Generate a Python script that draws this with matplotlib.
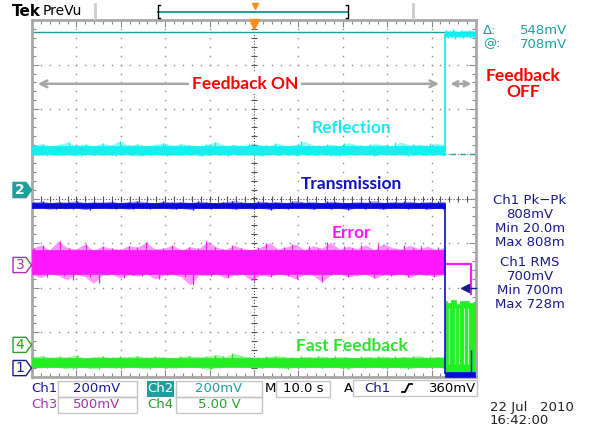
import numpy as np
import matplotlib.pyplot as plt
from matplotlib.patches import Polygon, Rectangle
from matplotlib.ticker import MultipleLocator
from matplotlib.transforms import blended_transform_factory

# scope settings: 10 s/div, 10 div across, 8 div up
t_off = 43.0                     # s, feedback switched off
ch_gnd = {'1': -3.80, '2': 0.19, '3': -1.49, '4': -3.28}  # ground markers (div)
ch_scale = 200.0                 # mV/div for Ch1 and Ch2
cursor_at = 708.0                # mV
cursor_delta = 548.0             # mV
trig_level = 360.0               # mV on Ch1

# trace levels (div) before / after switching feedback off
refl_on, refl_off = 1.07, 3.68
trans_on, trans_off = -0.15, -3.93
err_on, err_off = -1.42, -1.47
fast_on = -3.67

# solid core of each noisy trace (div, +/- around level)
refl_core = (0.10, -0.08)
trans_core = (0.06, -0.06)
err_core = (0.27, -0.27)
fast_core = (0.10, -0.10)

# noise peaks (div, relative to level)
refl_top = [0.12, 0.16, 0.11, 0.14, 0.19, 0.12, 0.15, 0.11, 0.17, 0.13, 0.22, 0.12,
            0.15, 0.11, 0.14, 0.18, 0.12, 0.16, 0.13, 0.11, 0.15, 0.20, 0.12, 0.14,
            0.11, 0.16, 0.13, 0.12, 0.17, 0.11, 0.14, 0.21, 0.13, 0.12, 0.15, 0.11,
            0.18, 0.13, 0.12, 0.16, 0.14, 0.11, 0.19, 0.13, 0.15, 0.12, 0.17, 0.13]
refl_bot = [-0.09, -0.11, -0.08, -0.10, -0.09, -0.12, -0.08, -0.10, -0.09, -0.11, -0.08, -0.10,
            -0.12, -0.09, -0.08, -0.11, -0.10, -0.09, -0.08, -0.12, -0.10, -0.09, -0.11, -0.08,
            -0.10, -0.09, -0.12, -0.08, -0.10, -0.09, -0.11, -0.08, -0.10, -0.09, -0.11, -0.12,
            -0.08, -0.10, -0.09, -0.11, -0.08, -0.10, -0.09, -0.12, -0.08, -0.10, -0.09, -0.11]
refl_off_top = [0.10, 0.07, 0.11, 0.06, 0.09, 0.08, 0.10, 0.07]
refl_off_bot = [-0.08, -0.05, -0.10, -0.06, -0.09, -0.05, -0.08, -0.07]

trans_top = [0.07, 0.09, 0.06, 0.08, 0.07, 0.10, 0.06, 0.08, 0.07, 0.09, 0.06, 0.08,
             0.10, 0.07, 0.06, 0.09, 0.07, 0.08, 0.06, 0.09, 0.07, 0.06, 0.08, 0.10,
             0.07, 0.06, 0.09, 0.07, 0.08, 0.06, 0.10, 0.07, 0.08, 0.06, 0.09, 0.07,
             0.06, 0.08, 0.07, 0.10, 0.06, 0.08, 0.07, 0.09, 0.06, 0.08, 0.07, 0.09]
trans_bot = [-0.07, -0.06, -0.09, -0.07, -0.08, -0.06, -0.10, -0.07, -0.06, -0.08, -0.07, -0.09,
             -0.06, -0.08, -0.07, -0.06, -0.09, -0.07, -0.10, -0.06, -0.08, -0.07, -0.06, -0.09,
             -0.07, -0.08, -0.06, -0.10, -0.07, -0.08, -0.06, -0.07, -0.09, -0.06, -0.08, -0.07,
             -0.10, -0.06, -0.08, -0.07, -0.09, -0.06, -0.07, -0.08, -0.06, -0.09, -0.07, -0.08]

err_top = [0.30, 0.38, 0.27, 0.47, 0.32, 0.29, 0.40, 0.26, 0.35, 0.31, 0.28, 0.36,
           0.33, 0.44, 0.29, 0.31, 0.37, 0.27, 0.34, 0.30, 0.46, 0.33, 0.28, 0.37,
           0.30, 0.27, 0.33, 0.43, 0.29, 0.34, 0.40, 0.27, 0.36, 0.31, 0.44, 0.29,
           0.35, 0.30, 0.38, 0.27, 0.41, 0.32, 0.29, 0.37, 0.30, 0.35, 0.28, 0.33]
err_bot = [-0.29, -0.35, -0.27, -0.31, -0.40, -0.28, -0.33, -0.48, -0.30, -0.27, -0.36, -0.29,
           -0.32, -0.27, -0.38, -0.30, -0.28, -0.34, -0.52, -0.29, -0.31, -0.27, -0.36, -0.30,
           -0.28, -0.42, -0.29, -0.33, -0.27, -0.31, -0.38, -0.28, -0.30, -0.45, -0.29, -0.27,
           -0.34, -0.30, -0.28, -0.37, -0.29, -0.31, -0.27, -0.35, -0.28, -0.30, -0.33, -0.27]

fast_top = [0.12, 0.15, 0.11, 0.13, 0.12, 0.16, 0.10, 0.12, 0.14, 0.11, 0.13, 0.12,
            0.15, 0.11, 0.13, 0.12, 0.10, 0.13, 0.15, 0.12, 0.14, 0.17, 0.13, 0.20,
            0.14, 0.12, 0.11, 0.13, 0.15, 0.12, 0.11, 0.13, 0.12, 0.14, 0.11, 0.13,
            0.12, 0.10, 0.13, 0.12, 0.14, 0.11, 0.13, 0.12, 0.15, 0.11, 0.13, 0.12]
fast_bot = [-0.11, -0.13, -0.10, -0.12, -0.14, -0.11, -0.12, -0.15, -0.11, -0.13, -0.12, -0.10,
            -0.12, -0.14, -0.11, -0.12, -0.13, -0.11, -0.10, -0.12, -0.16, -0.12, -0.09, -0.07,
            -0.10, -0.12, -0.13, -0.11, -0.12, -0.14, -0.11, -0.12, -0.10, -0.13, -0.11, -0.12,
            -0.14, -0.11, -0.12, -0.10, -0.13, -0.11, -0.12, -0.14, -0.11, -0.12, -0.10, -0.13]
fast_off_top = [-2.30, -2.34, -2.28, -2.36, -2.30, -2.29, -2.35, -2.31]
fast_off_bot = -3.88
fast_streaks = [43.9, 45.3, 46.2, 47.3, 48.2]     # s, lighter burst lines
spike_t = 48.9                                     # s, last Ch1/Ch3 step

# colours
c_refl = '#12f0f0'
c_trans = '#0a0ad8'
c_err = '#ff18ff'
c_fast = '#22ee22'
c_teal = '#1f9e9e'
c_navy = '#1a1a8c'
c_orange = '#ff8c1a'

fig = plt.figure(figsize=(5.92, 4.28), dpi=100)
ax = fig.add_axes([32 / 592, 51 / 428, 444 / 592, 357 / 428])
ax.set_xlim(-50, 50)
ax.set_ylim(-4, 4)

# graticule
ax.xaxis.set_major_locator(MultipleLocator(10))
ax.xaxis.set_minor_locator(MultipleLocator(2))
ax.yaxis.set_major_locator(MultipleLocator(1))
ax.yaxis.set_minor_locator(MultipleLocator(0.2))
ax.tick_params(which='both', direction='in', top=True, right=True,
               labelbottom=False, labelleft=False, color='#8a8a8a', width=0.8)
ax.tick_params(which='major', length=5)
ax.tick_params(which='minor', length=3)
for s in ax.spines.values():
    s.set_color('#a8a8a8')
    s.set_linewidth(2)

ys = np.arange(-4, 4.001, 0.2)
xs = np.arange(-50, 50.001, 2)
for xv in range(-40, 41, 10):
    if xv != 0:
        ax.plot(np.full(len(ys), xv), ys, ls='none', marker='s', ms=1.0,
                mec='none', color='#8a8a8a', zorder=1)
for yv in range(-3, 4):
    if yv != 0:
        ax.plot(xs, np.full(len(xs), yv), ls='none', marker='s', ms=1.0,
                mec='none', color='#8a8a8a', zorder=1)
ax.plot(np.zeros(len(ys)), ys, ls=':', lw=0.8, color='#505050',
        marker='_', ms=5, mew=0.8, zorder=1)
ax.plot(xs, np.zeros(len(xs)), ls=':', lw=0.8, color='#505050',
        marker='|', ms=5, mew=0.8, zorder=1)

# cursors on Ch2
cur_hi = ch_gnd['2'] + cursor_at / ch_scale
cur_lo = cur_hi - cursor_delta / ch_scale
ax.axhline(cur_hi, color=c_teal, lw=1.0, zorder=2)
ax.axhline(cur_lo, color=c_teal, lw=1.0, ls=(0, (4, 3)), zorder=2)


def noisy(top, bot, core, level, t0, t1, color, z):
    # persistence halo, solid core band and thin spikes out to the noise peaks
    n = len(top)
    step = (t1 - t0) / n
    t_up = np.linspace(t0 + 0.25 * step, t1 - 0.75 * step, n)
    t_dn = t_up + 0.5 * step
    t_env = np.linspace(t0, t1, n)
    ax.fill_between(t_env, level + np.array(top), level + np.array(bot),
                    color=color, alpha=0.45, lw=0, zorder=z)
    ax.fill_between([t0, t1], level + core[0], level + core[1], color=color, lw=0.5, zorder=z)
    ax.vlines(t_up, level, level + np.array(top), color=color, lw=0.9, zorder=z)
    ax.vlines(t_dn, level, level + np.array(bot), color=color, lw=0.9, zorder=z)


# reflection (Ch2)
noisy(refl_top, refl_bot, refl_core, refl_on, -50, t_off, c_refl, 3)
noisy(refl_off_top, refl_off_bot, (0.05, -0.04), refl_off, t_off, 49.8, c_refl, 3)
ax.vlines(t_off, refl_on, refl_off, color=c_refl, lw=1.3, zorder=3)

# fast feedback (Ch4)
noisy(fast_top, fast_bot, fast_core, fast_on, -50, t_off, c_fast, 4)
ax.fill_between(np.linspace(t_off, 49.8, len(fast_off_top)), fast_off_top,
                fast_off_bot, color=c_fast, lw=0.5, step='mid', zorder=4)
ax.vlines(fast_streaks, -2.45, -3.7, color='#b8ffb8', lw=0.9, zorder=4)

# error (Ch3)
noisy(err_top, err_bot, err_core, err_on, -50, t_off, c_err, 5)
ax.plot([t_off, spike_t, spike_t], [err_off, err_off, err_off - 0.68],
        color=c_err, lw=1.6, zorder=5)

# transmission (Ch1)
noisy(trans_top, trans_bot, trans_core, trans_on, -50, t_off, c_trans, 6)
ax.fill_between([t_off, 49.8], trans_off + 0.05, -4.0, color=c_trans, lw=0.5, zorder=6)
ax.vlines(t_off, trans_on, trans_off, color=c_trans, lw=1.2, zorder=6)
ax.vlines(spike_t, trans_off, -3.40, color=c_trans, lw=1.0, zorder=6)

# trigger markers
trig_div = ch_gnd['1'] + trig_level / ch_scale
ax.plot(47.6, trig_div, marker='<', ms=6, color=c_navy, clip_on=False, zorder=7)
ax.plot([47.6, 50], [trig_div, trig_div], color=c_navy, lw=1.0, clip_on=False, zorder=7)
ax.plot(0, 3.92, marker='v', ms=7, color=c_orange, clip_on=False, zorder=7)

# annotations
ann = dict(family='Lato', weight='bold', fontsize=12.5, ha='center', va='center', zorder=8)
ax.annotate('', xy=(-49.3, 2.57), xytext=(42.3, 2.57),
            arrowprops=dict(arrowstyle='<->', color='#a6a6a6', lw=1.8, mutation_scale=12))
ax.annotate('', xy=(43.6, 2.57), xytext=(49.6, 2.57),
            arrowprops=dict(arrowstyle='<->', color='#a6a6a6', lw=1.8, mutation_scale=9))
ax.text(-2.0, 2.57, 'Feedback ON', color='#ff0000',
        bbox=dict(boxstyle='square,pad=0.15', fc='white', ec='none'), **ann)
ax.text(22, 1.58, 'Reflection', color='#18e8f0', **ann)
ax.text(22, 0.33, 'Transmission', color='#1010c8', **ann)
ax.text(22, -0.78, 'Error', color='#ff18ff', **ann)
ax.text(22, -3.31, 'Fast Feedback', color='#30e030', **ann)

# overlay in screen pixels for the scope's status areas
ov = fig.add_axes([0, 0, 1, 1])
ov.set_xlim(0, 592)
ov.set_ylim(428, 0)
ov.axis('off')

ov.text(523, 84, 'Feedback\nOFF', color='#ff0000', family='Lato', weight='bold',
        fontsize=12.5, ha='center', va='center', linespacing=1.0)

# top bar
ov.text(12, 11, 'Tek', fontsize=11, weight='bold', va='center', color='black')
ov.text(43, 11, 'PreVu', fontsize=10, va='center', color='black')
ov.plot([95, 95], [4, 18], color='#cccccc', lw=2)
ov.plot([413, 413], [4, 18], color='#cccccc', lw=2)
ov.plot([158, 348], [12, 12], color=c_teal, lw=1.4)
ov.plot([160, 158, 158, 160], [5, 5, 18, 18], color='black', lw=1)
ov.plot([346, 348, 348, 346], [5, 5, 18, 18], color='black', lw=1)
ov.plot(255, 6, marker='v', ms=5, color=c_orange)

# channel ground markers
bt = blended_transform_factory(ov.transData, ax.transData)
tag_col = {'1': c_navy, '2': c_teal, '3': '#b030b0', '4': '#28a028'}
for ch, lvl in ch_gnd.items():
    pts = [(13, lvl + 0.17), (26, lvl + 0.17), (31.5, lvl), (26, lvl - 0.17), (13, lvl - 0.17)]
    filled = ch == '2'
    ov.add_patch(Polygon(pts, closed=True, transform=bt, clip_on=False, lw=1,
                         fc=tag_col[ch] if filled else 'white', ec=tag_col[ch]))
    ov.text(20, lvl, ch, transform=bt, ha='center', va='center', fontsize=10,
            color='white' if filled else tag_col[ch], weight='bold' if filled else 'normal')

# cursor readout
rd = dict(fontsize=9.5, va='center', color=c_teal)
ov.text(483, 30, 'Δ:', **rd)
ov.text(567, 30, '548mV', ha='right', **rd)
ov.text(483, 44, '@:', **rd)
ov.text(567, 44, '708mV', ha='right', **rd)

# measurements
meas = ['Ch1 Pk\u2212Pk', '808mV', 'Min 20.0m', 'Max 808m',
        'Ch1 RMS', '700mV', 'Min 700m', 'Max 728m']
meas_y = [200, 214, 228, 242, 263, 277, 291, 305]
for s, y in zip(meas, meas_y):
    ov.text(530, y, s, fontsize=9.5, ha='center', va='center', color=c_navy)

# bottom settings boxes
box = dict(fill=False, ec='#c4c4c4', lw=1)
for x, y, w, h in [(58, 381, 79, 16), (176, 381, 86, 16), (276, 381, 54, 16),
                   (353, 380, 124, 16), (58, 397, 79, 16), (176, 397, 86, 16)]:
    ov.add_patch(Rectangle((x, y), w, h, **box))
ov.add_patch(Rectangle((147, 381), 27, 16, fc=c_teal, ec='none'))
bx = dict(fontsize=9.5, va='center')
ov.text(31, 389, 'Ch1', color=c_navy, **bx)
ov.text(97, 389, '200mV', ha='center', color=c_navy, **bx)
ov.text(160.5, 389, 'Ch2', ha='center', color='white', **bx)
ov.text(219, 389, '200mV', ha='center', color=c_teal, **bx)
ov.text(265, 389, 'M', color='black', **bx)
ov.text(303, 389, '10.0 s', ha='center', color='black', **bx)
ov.text(344, 389, 'A', color='black', **bx)
ov.text(364, 389, 'Ch1', color=c_navy, **bx)
ov.plot([402, 405, 409, 412], [392, 392, 384, 384], color='black', lw=1.3)
ov.text(476, 389, '360mV', ha='right', color='black', **bx)
ov.text(31, 405, 'Ch3', color='#b030b0', **bx)
ov.text(97, 405, '500mV', ha='center', color='#b030b0', **bx)
ov.text(147, 405, 'Ch4', color='#28a028', **bx)
ov.text(219, 405, '5.00 V', ha='center', color='#28a028', **bx)

ov.text(490, 408, '22 Jul   2010', fontsize=9.5, va='center', color='#222222')
ov.text(490, 421, '16:42:00', fontsize=9.5, va='center', color='#222222')

fig.savefig('out.png', dpi=100)
